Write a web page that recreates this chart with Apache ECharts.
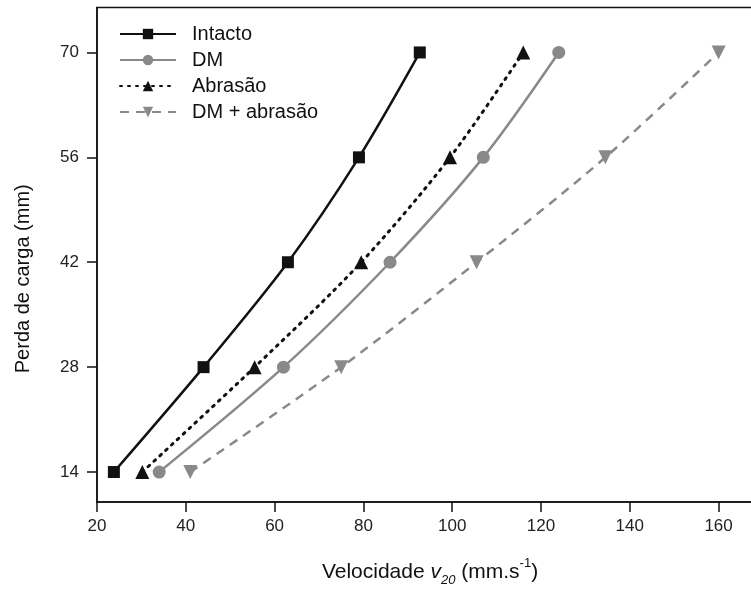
<!DOCTYPE html>
<html>
<head>
<meta charset="utf-8">
<script src="https://cdn.jsdelivr.net/npm/echarts@6/dist/echarts.min.js"></script>
<style>
  html, body { margin: 0; padding: 0; background: #fff; }
  #chart { width: 751px; height: 592px; }
</style>
</head>
<body>
<div id="chart"></div>
<script>
// perda de carga (mm) nos pontos medidos
const headLoss = [14, 28, 42, 56, 70];
const yTicks = [14, 28, 42, 56, 70];
const xTicks = [20, 40, 60, 80, 100, 120, 140, 160];

// velocidade v20 (mm/s) para cada tratamento
const intacto = [23.8, 44, 63, 79, 92.7];
const dm = [34, 62, 86, 107, 124];
const abrasao = [30.2, 55.5, 79.5, 99.5, 116];
const dmAbrasao = [41, 75, 105.5, 134.5, 160];

const black = '#111';
const gray = '#898989';
const font = 'Liberation Sans, Arial, sans-serif';

function pairs(xs) {
    return xs.map(function (x, i) { return [x, headLoss[i]]; });
}

let myChart = echarts.init(document.getElementById('chart'));

let option = {
    animation: false,
    textStyle: { fontFamily: font },
    grid: {
        left: 97,
        top: 7.5,
        right: -12,
        bottom: 90,
        show: true,
        borderColor: black,
        borderWidth: 1.5,
        outerBoundsMode: 'none'
    },
    legend: {
        orient: 'vertical',
        left: 114,
        top: 19,
        itemWidth: 56,
        itemHeight: 13,
        itemGap: 6,
        textStyle: {
            fontFamily: font,
            fontSize: 20,
            color: black,
            lineHeight: 20,
            padding: [0, 0, 0, 11]
        },
        data: ['Intacto', 'DM', 'Abrasão', 'DM + abrasão']
    },
    xAxis: {
        type: 'value',
        min: 20,
        max: 170,
        name: 'Velocidade {i|v}{sub|20} (mm.s{sup|-1})',
        nameLocation: 'middle',
        nameGap: 55,
        nameTextStyle: {
            fontFamily: font,
            fontSize: 21,
            color: black,
            lineHeight: 30,
            rich: {
                i: { fontFamily: font, fontSize: 21, fontStyle: 'italic', color: black, lineHeight: 30 },
                sub: { fontFamily: font, fontSize: 13, fontStyle: 'italic', color: black, lineHeight: 12, verticalAlign: 'bottom' },
                sup: { fontFamily: font, fontSize: 13, color: black, lineHeight: 12, verticalAlign: 'top' }
            }
        },
        axisLine: { lineStyle: { color: black, width: 1.5 } },
        axisTick: { inside: false, length: 10, customValues: xTicks, lineStyle: { color: black, width: 1.5 } },
        axisLabel: { color: '#222', fontSize: 17, margin: 16, fontFamily: font, customValues: xTicks },
        splitLine: { show: false }
    },
    yAxis: {
        type: 'value',
        min: 10,
        max: 76,
        name: 'Perda de carga (mm)',
        nameLocation: 'middle',
        nameGap: 64,
        nameTextStyle: { fontFamily: font, fontSize: 20, color: black, padding: [0, 48, 0, 0] },
        axisLine: { lineStyle: { color: black, width: 1.5 } },
        axisTick: { inside: false, length: 10, customValues: yTicks, lineStyle: { color: black, width: 1.5 } },
        axisLabel: { color: '#222', fontSize: 17, margin: 18, fontFamily: font, customValues: yTicks },
        splitLine: { show: false }
    },
    series: [
        {
            name: 'Intacto',
            type: 'line',
            smooth: 0.3,
            data: pairs(intacto),
            symbol: 'rect',
            symbolSize: 12,
            itemStyle: { color: black },
            lineStyle: { color: black, width: 2.5, type: 'solid' }
        },
        {
            name: 'DM',
            type: 'line',
            smooth: 0.3,
            data: pairs(dm),
            symbol: 'circle',
            symbolSize: 13,
            itemStyle: { color: gray },
            lineStyle: { color: gray, width: 2.5, type: 'solid' }
        },
        {
            name: 'Abrasão',
            type: 'line',
            smooth: 0.3,
            data: pairs(abrasao),
            symbol: 'triangle',
            symbolSize: 14,
            itemStyle: { color: black },
            lineStyle: { color: black, width: 3, type: [2, 6], cap: 'round' }
        },
        {
            name: 'DM + abrasão',
            type: 'line',
            smooth: 0.3,
            data: pairs(dmAbrasao),
            symbol: 'triangle',
            symbolRotate: 180,
            symbolSize: 14,
            itemStyle: { color: gray },
            lineStyle: { color: gray, width: 2.5, type: [9, 7] }
        }
    ]
};

myChart.setOption(option);

window.addEventListener('resize', function () {
    myChart.resize();
});
</script>
</body>
</html>
